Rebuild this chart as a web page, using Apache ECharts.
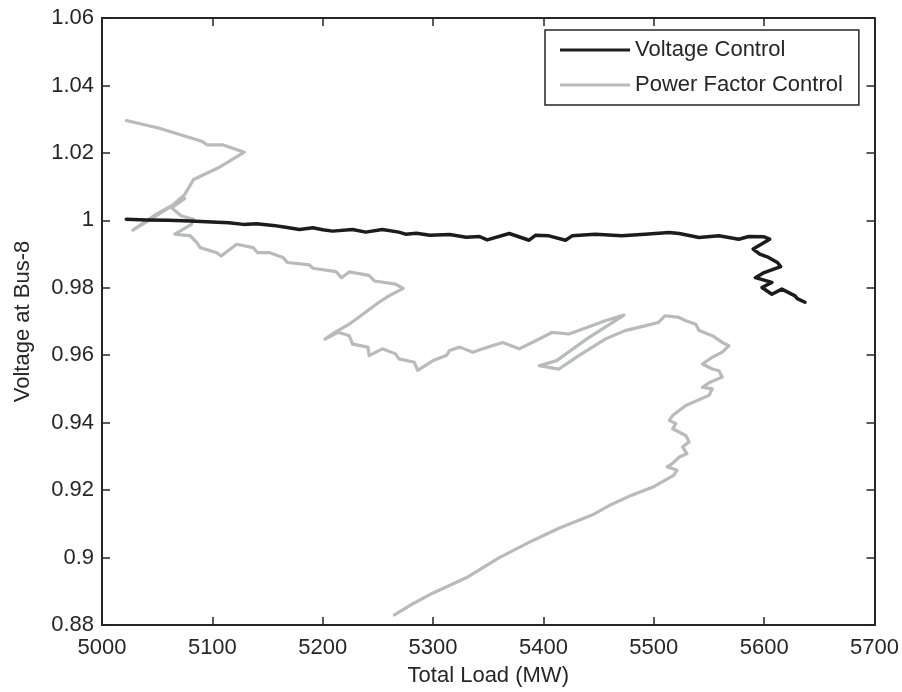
<!DOCTYPE html>
<html>
<head>
<meta charset="utf-8">
<script src="https://cdn.jsdelivr.net/npm/echarts@6/dist/echarts.min.js"></script>
<style>
  html, body { margin: 0; padding: 0; background: #ffffff; }
  #chart { width: 902px; height: 692px; }
</style>
</head>
<body>
<div id="chart"></div>
<script>
// Voltage at Bus-8 versus total system load, for two control strategies.
const xRange = [5000, 5700];
const yRange = [0.88, 1.06];
const seriesNames = ['Voltage Control', 'Power Factor Control'];

// Voltage Control trajectory
const vcLoad = [5022, 5040, 5060, 5080, 5100, 5115, 5128, 5140, 5155, 5165, 5179, 5191, 5200, 5209, 5227, 5239, 5254, 5269, 5275, 5285, 5297, 5315, 5330, 5342, 5349, 5369, 5387, 5393, 5405, 5420, 5426, 5447, 5471, 5492, 5514, 5523, 5541, 5559, 5577, 5586, 5600, 5605, 5590, 5596, 5604, 5612, 5615, 5600, 5592, 5607, 5598, 5607, 5616, 5628, 5630, 5637];
const vcVolt = [1.0003, 1.0001, 1.0000, 0.9998, 0.9995, 0.9993, 0.9988, 0.9990, 0.9985, 0.9980, 0.9973, 0.9978, 0.9972, 0.9968, 0.9973, 0.9965, 0.9973, 0.9965, 0.9959, 0.9962, 0.9956, 0.9958, 0.9950, 0.9952, 0.9942, 0.9961, 0.9941, 0.9956, 0.9954, 0.9941, 0.9954, 0.9959, 0.9954, 0.9959, 0.9964, 0.9961, 0.9949, 0.9954, 0.9944, 0.9952, 0.9951, 0.9944, 0.9915, 0.9900, 0.9890, 0.9875, 0.9863, 0.9845, 0.9830, 0.9816, 0.9801, 0.9781, 0.9796, 0.9776, 0.9768, 0.9757];

// Power Factor Control trajectory
const pfLoad = [5022, 5052, 5091, 5095, 5109, 5129, 5105, 5083, 5075, 5063, 5045, 5028, 5050, 5075, 5063, 5072, 5083, 5081, 5066, 5080, 5086, 5089, 5104, 5108, 5122, 5137, 5141, 5152, 5164, 5168, 5188, 5191, 5212, 5217, 5224, 5242, 5247, 5266, 5273, 5260, 5251, 5224, 5211, 5202, 5214, 5224, 5227, 5241, 5242, 5254, 5266, 5269, 5283, 5286, 5300, 5312, 5315, 5324, 5336, 5345, 5363, 5378, 5393, 5408, 5423, 5432, 5456, 5473, 5440, 5412, 5396, 5414, 5432, 5456, 5474, 5492, 5504, 5510, 5523, 5529, 5538, 5541, 5553, 5562, 5568, 5562, 5553, 5544, 5553, 5559, 5562, 5551, 5544, 5553, 5550, 5529, 5517, 5514, 5520, 5517, 5529, 5532, 5526, 5530, 5523, 5517, 5512, 5521, 5518, 5500, 5480, 5460, 5444, 5414, 5390, 5360, 5330, 5300, 5280, 5265];
const pfVolt = [1.0296, 1.0273, 1.0234, 1.0224, 1.0224, 1.0202, 1.0155, 1.0121, 1.0077, 1.0042, 1.0005, 0.9971, 1.0020, 1.0065, 1.0037, 1.0013, 1.0003, 0.9988, 0.9959, 0.9954, 0.9934, 0.9919, 0.9904, 0.9894, 0.9929, 0.9919, 0.9904, 0.9904, 0.9890, 0.9875, 0.9868, 0.9858, 0.9848, 0.9830, 0.9847, 0.9837, 0.9820, 0.9811, 0.9798, 0.9776, 0.9757, 0.9692, 0.9668, 0.9648, 0.9668, 0.9658, 0.9633, 0.9624, 0.9599, 0.9619, 0.9604, 0.9589, 0.9579, 0.9555, 0.9584, 0.9599, 0.9614, 0.9624, 0.9609, 0.9619, 0.9638, 0.9619, 0.9643, 0.9668, 0.9663, 0.9673, 0.9702, 0.9719, 0.9650, 0.9584, 0.9569, 0.9559, 0.9599, 0.9648, 0.9673, 0.9687, 0.9697, 0.9717, 0.9712, 0.9702, 0.9692, 0.9673, 0.9658, 0.9638, 0.9628, 0.9609, 0.9594, 0.9574, 0.9559, 0.9554, 0.9535, 0.9520, 0.9505, 0.9500, 0.9481, 0.9451, 0.9421, 0.9407, 0.9397, 0.9382, 0.9362, 0.9343, 0.9328, 0.9308, 0.9298, 0.9279, 0.9269, 0.9259, 0.9244, 0.9210, 0.9185, 0.9155, 0.9126, 0.9087, 0.9050, 0.9000, 0.8940, 0.8895, 0.8860, 0.8830];

const zip = (xs, ys) => xs.map((x, i) => [x, ys[i]]);

const FONT = '"Liberation Sans", Arial, Helvetica, sans-serif';
const INK = '#262626';
const VC_COLOR = '#1c1c1c';
const PF_COLOR = '#b9babe';

const frameAxis = {
  axisLine: { show: true, lineStyle: { color: INK, width: 2 } },
  axisTick: { show: true, inside: true, length: 8, lineStyle: { color: INK, width: 1.5 } },
  splitLine: { show: false }
};

const chart = echarts.init(document.getElementById('chart'), null, { renderer: 'canvas' });

chart.setOption({
  backgroundColor: '#ffffff',
  animation: false,
  grid: { left: 102, top: 18, right: 26, bottom: 65 },
  textStyle: { fontFamily: FONT },
  legend: {
    orient: 'vertical',
    left: 545,
    top: 30,
    padding: [9, 16, 9, 15],
    itemGap: 13,
    itemWidth: 70,
    itemHeight: 3,
    icon: 'rect',
    backgroundColor: '#ffffff',
    borderColor: INK,
    borderWidth: 1.5,
    borderRadius: 0,
    textStyle: { fontFamily: FONT, fontSize: 22, color: INK, lineHeight: 22 },
    data: seriesNames
  },
  xAxis: [
    Object.assign({
      type: 'value', position: 'bottom', min: xRange[0], max: xRange[1], interval: 100,
      name: 'Total Load (MW)', nameLocation: 'middle', nameGap: 40,
      nameTextStyle: { fontFamily: FONT, fontSize: 22, color: INK },
      axisLabel: { fontFamily: FONT, fontSize: 22, color: INK, margin: 12, formatter: v => String(v) }
    }, frameAxis),
    Object.assign({
      type: 'value', position: 'top', min: xRange[0], max: xRange[1], interval: 100,
      axisLabel: { show: false }
    }, frameAxis)
  ],
  yAxis: [
    Object.assign({
      type: 'value', position: 'left', min: yRange[0], max: yRange[1], interval: 0.02,
      name: 'Voltage at Bus-8', nameLocation: 'middle', nameGap: 68,
      nameTextStyle: { fontFamily: FONT, fontSize: 22, color: INK },
      axisLabel: { fontFamily: FONT, fontSize: 22, color: INK, margin: 8 }
    }, frameAxis),
    Object.assign({
      type: 'value', position: 'right', min: yRange[0], max: yRange[1], interval: 0.02,
      axisLabel: { show: false }
    }, frameAxis)
  ],
  series: [
    {
      name: seriesNames[0],
      type: 'line',
      xAxisIndex: 0, yAxisIndex: 0,
      symbol: 'none',
      z: 3,
      lineStyle: { color: VC_COLOR, width: 3.5, join: 'round', cap: 'round' },
      itemStyle: { color: VC_COLOR },
      data: zip(vcLoad, vcVolt)
    },
    {
      name: seriesNames[1],
      type: 'line',
      xAxisIndex: 0, yAxisIndex: 0,
      symbol: 'none',
      z: 2,
      lineStyle: { color: PF_COLOR, width: 3.2, join: 'round', cap: 'round' },
      itemStyle: { color: PF_COLOR },
      data: zip(pfLoad, pfVolt)
    }
  ]
});
</script>
</body>
</html>
